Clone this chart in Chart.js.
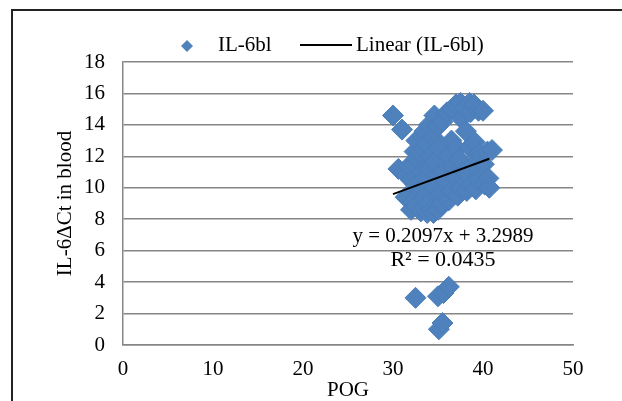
<!DOCTYPE html>
<html>
<head>
<meta charset="utf-8">
<script src="https://cdn.jsdelivr.net/npm/chart.js@4"></script>
<style>
  body { margin: 0; background: #fff; }
  #wrap { position: relative; width: 622px; height: 401px; overflow: hidden; }
  #frame {
    position: absolute; left: 11px; top: 9px; width: 640px; height: 420px;
    border: 2px solid #222; box-sizing: border-box;
  }
  canvas { position: absolute; left: 0; top: 0; }
</style>
</head>
<body>
<div id="wrap">
  <div id="frame"></div>
  <canvas id="chart" width="622" height="401"></canvas>
</div>
<script>
// POG (x) and IL-6 delta Ct in blood (y)
const pog = [
  30, 31, 30.6, 31.2,
  31.5, 31.8, 31.4,
  32, 32.2, 32, 32.3, 32.4,
  32.6, 32.7, 32.5, 32.6, 32.5,
  33, 33.2, 33, 33.1, 33.3,
  33.5, 33.7, 33.6, 33.5, 33.8,
  34, 34.2, 34.1, 34, 34.3,
  34.6, 34.5, 34.7, 34.5, 34.6,
  35, 35.1, 35, 35.2, 35, 35, 35.1,
  35.5, 35.6, 35.4, 35.6, 35.5,
  36, 36.1, 36, 36.2, 36.2,
  36.6, 36.5, 36.7, 36.5,
  37, 37.1, 37, 37.2,
  37.5, 37.6, 37.4, 37.5,
  38, 38.1, 38, 38.2,
  38.5, 38.6, 38.5, 38.7,
  39, 39.1, 39, 39.2,
  39.5, 39.6, 39.5,
  40, 40.1, 40.2,
  40.5, 40.6, 40.7,
  41
];
const ctBlood = [
  14.6, 13.7, 11.2, 11.0,
  10.8, 11.4, 9.4,
  8.6, 9.1, 10.5, 11.5, 12.3,
  13.0, 11.8, 10.2, 8.9, 3.0,
  12.2, 11.0, 9.8, 8.5, 13.3,
  13.6, 12.8, 10.6, 9.4, 8.4,
  14.0, 12.0, 11.2, 9.0, 8.6,
  14.6, 13.2, 10.0, 8.4, 11.6,
  13.9, 12.5, 10.8, 9.6, 8.6, 3.1, 1.0,
  14.2, 11.0, 9.0, 3.3, 1.4,
  14.8, 12.0, 10.4, 9.2, 3.7,
  15.0, 13.0, 11.3, 9.8,
  15.3, 12.5, 10.6, 9.5,
  15.4, 14.4, 11.8, 10.0,
  15.1, 13.6, 11.0, 9.8,
  15.4, 14.8, 12.6, 10.2,
  15.3, 12.9, 11.5, 9.9,
  14.9, 12.2, 10.5,
  14.9, 11.5, 10.2,
  12.3, 10.6, 10.0,
  12.4
];
// linear trend line end points
const trendX = [30, 40.7];
const trendY = [9.6, 11.85];
const xTicks = [0, 10, 20, 30, 40, 50];
const yTicks = [0, 2, 4, 6, 8, 10, 12, 14, 16, 18];
const equation = ["y = 0.2097x + 3.2989", "R\u00b2 = 0.0435"];

const blue = "#4F81BD";
const serif = "'Liberation Serif', 'Times New Roman', serif";

// legend and equation text, drawn like the Excel chart
const extras = {
  id: "extras",
  afterDraw(chart) {
    const ctx = chart.ctx;
    ctx.save();
    ctx.textBaseline = "middle";

    // legend
    ctx.fillStyle = blue;
    ctx.beginPath();
    ctx.moveTo(187, 40);
    ctx.lineTo(193, 46);
    ctx.lineTo(187, 52);
    ctx.lineTo(181, 46);
    ctx.closePath();
    ctx.fill();
    ctx.font = "21px " + serif;
    ctx.fillStyle = "#000";
    ctx.textAlign = "left";
    ctx.fillText("IL-6bl", 218, 45);
    ctx.strokeStyle = "#000";
    ctx.lineWidth = 2;
    ctx.beginPath();
    ctx.moveTo(300, 45);
    ctx.lineTo(352, 45);
    ctx.stroke();
    ctx.fillText("Linear (IL-6bl)", 356, 45);

    // equation
    ctx.textAlign = "center";
    ctx.font = "21px " + serif;
    ctx.fillText(equation[0], 443, 236);
    ctx.font = "22px " + serif;
    ctx.fillText(equation[1], 443, 260);
    ctx.restore();
  },
};

new Chart(document.getElementById("chart"), {
  type: "scatter",
  data: {
    datasets: [
      {
        type: "line",
        label: "Linear (IL-6bl)",
        data: trendX.map((x, i) => ({ x: x, y: trendY[i] })),
        borderColor: "#000",
        borderWidth: 2,
        pointRadius: 0,
        order: 0,
      },
      {
        label: "IL-6bl",
        data: pog.map((x, i) => ({ x: x, y: ctBlood[i] })),
        pointStyle: "rectRot",
        pointRadius: 10.5,
        backgroundColor: blue,
        borderColor: "#4A7EBB",
        borderWidth: 1,
        order: 1,
      },
    ],
  },
  options: {
    responsive: false,
    animation: false,
    layout: { padding: { left: 55, right: 49, top: 62, bottom: 0 } },
    plugins: {
      legend: { display: false },
      tooltip: { enabled: false },
    },
    scales: {
      x: {
        type: "linear",
        min: 0,
        max: 50,
        afterBuildTicks: (axis) => {
          axis.ticks = xTicks.map((v) => ({ value: v }));
        },
        afterFit: (axis) => {
          axis.height = 56;
        },
        grid: { display: false, drawTicks: false },
        border: { display: true, color: "#868686", width: 1.5 },
        ticks: { color: "#000", padding: 12, font: { family: serif, size: 21 } },
        title: {
          display: true,
          text: "POG",
          color: "#000",
          padding: 0,
          font: { family: serif, size: 21, lineHeight: 1 },
        },
      },
      y: {
        min: 0,
        max: 18,
        afterBuildTicks: (axis) => {
          axis.ticks = yTicks.map((v) => ({ value: v }));
        },
        afterFit: (axis) => {
          axis.width = 68;
        },
        grid: { color: "#868686", lineWidth: 1.5, drawTicks: false },
        border: { display: true, color: "#868686", width: 1.5 },
        ticks: { color: "#000", padding: 18, font: { family: serif, size: 21 } },
        title: {
          display: true,
          text: "IL-6\u0394Ct in blood",
          color: "#000",
          padding: 0,
          font: { family: serif, size: 21, lineHeight: 1 },
        },
      },
    },
  },
  plugins: [extras],
});
</script>
</body>
</html>
